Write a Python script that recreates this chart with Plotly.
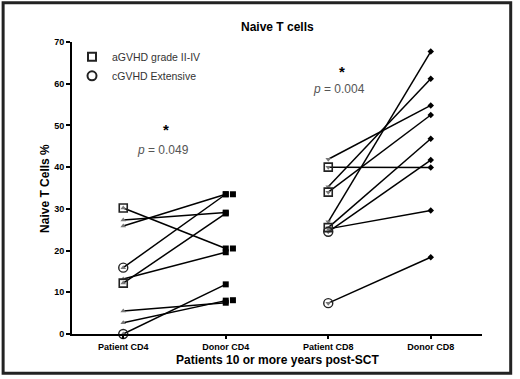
import plotly.graph_objects as go

categories = ["Patient CD4", "Donor CD4", "Patient CD8", "Donor CD8"]
y_ticks = [0, 10, 20, 30, 40, 50, 60, 70]

patient_cd4 = [30.2, 27.3, 25.9, 15.9, 12.2, 13.2, 5.5, 2.7, 0.0]
donor_cd4 = [20.5, 29.1, 33.5, 33.5, 28.9, 19.6, 7.5, 8.0, 11.9]
group_cd4 = ["aGVHD", "none", "none", "cGVHD", "aGVHD", "none", "none", "none", "cGVHD"]
donor_cd4_scatter = [33.5, 20.5, 8.1]

patient_cd8 = [41.9, 40.0, 35.3, 34.0, 26.9, 25.5, 24.5, 25.2, 7.4]
donor_cd8 = [54.8, 39.9, 61.2, 52.5, 67.7, 46.8, 41.7, 29.6, 18.4]
group_cd8 = ["none", "aGVHD", "none", "aGVHD", "none", "aGVHD", "cGVHD", "none", "cGVHD"]

p_labels = ["0.049", "0.004"]
legend_labels = ["aGVHD grade II-IV", "cGVHD Extensive"]

FONT = "Liberation Sans, Arial, sans-serif"
fig = go.Figure()

def add_pairs(xp, xd, pat, don, groups, pat_symbol, don_symbol, don_size):
    for p, d in zip(pat, don):
        fig.add_trace(go.Scatter(x=[xp, xd], y=[p, d], mode="lines",
                                 line=dict(color="black", width=1.5),
                                 showlegend=False, hoverinfo="skip", cliponaxis=False))
    fig.add_trace(go.Scatter(x=[xp] * len(pat), y=pat, mode="markers",
                             marker=dict(symbol=pat_symbol, size=5, color="#777"),
                             showlegend=False, cliponaxis=False))
    fig.add_trace(go.Scatter(x=[xd] * len(don), y=don, mode="markers",
                             marker=dict(symbol=don_symbol, size=don_size, color="black"),
                             showlegend=False, cliponaxis=False))
    sq = [v for v, g in zip(pat, groups) if g == "aGVHD"]
    ci = [v for v, g in zip(pat, groups) if g == "cGVHD"]
    fig.add_trace(go.Scatter(x=[xp] * len(sq), y=sq, mode="markers",
                             marker=dict(symbol="square-open", size=8, color="#222",
                                         line=dict(width=1.6)),
                             showlegend=False, cliponaxis=False))
    fig.add_trace(go.Scatter(x=[xp] * len(ci), y=ci, mode="markers",
                             marker=dict(symbol="circle-open", size=9, color="#222",
                                         line=dict(width=1.4)),
                             showlegend=False, cliponaxis=False))

add_pairs(0, 1, patient_cd4, donor_cd4, group_cd4, "triangle-up", "square", 6)
fig.add_trace(go.Scatter(x=[1.07] * len(donor_cd4_scatter), y=donor_cd4_scatter, mode="markers",
                         marker=dict(symbol="square", size=6, color="black"),
                         showlegend=False, cliponaxis=False))
add_pairs(2, 3, patient_cd8, donor_cd8, group_cd8, "triangle-down", "diamond", 5)

# legend entries
fig.add_trace(go.Scatter(x=[None], y=[None], mode="markers", name=legend_labels[0],
                         marker=dict(symbol="square-open", size=8, color="#222", line=dict(width=2))))
fig.add_trace(go.Scatter(x=[None], y=[None], mode="markers", name=legend_labels[1],
                         marker=dict(symbol="circle-open", size=9, color="#222", line=dict(width=2))))

annos = []
for xc, ys, yp, pl in [(0.42, 49.1, 44.1, p_labels[0]), (2.13, 63.0, 58.7, p_labels[1])]:
    annos.append(dict(x=xc, y=ys, xref="x", yref="y", text="<b>*</b>", showarrow=False,
                      xanchor="center", yanchor="middle",
                      font=dict(size=15, color="black", family=FONT)))
    annos.append(dict(x=xc - 0.03, y=yp, xref="x", yref="y", text="<i>p</i> = " + pl,
                      showarrow=False, xanchor="center", yanchor="middle",
                      font=dict(size=12, color="#555", family=FONT)))

annos.append(dict(x=0.5, y=1.051, xref="paper", yref="paper", text="<b>Naive T cells</b>",
                  showarrow=False, xanchor="center", yanchor="middle",
                  font=dict(size=12, color="black", family=FONT)))
annos.append(dict(x=0.5, y=-0.09, xref="paper", yref="paper",
                  text="<b>Patients 10 or more years post-SCT</b>",
                  showarrow=False, xanchor="center", yanchor="middle",
                  font=dict(size=12, color="black", family=FONT)))
annos.append(dict(x=-0.066, y=0.5, xref="paper", yref="paper", text="<b>Naive T Cells %</b>",
                  textangle=-90, showarrow=False, xanchor="center", yanchor="middle",
                  font=dict(size=12, color="black", family=FONT)))

fig.update_layout(
    width=520, height=379,
    margin=dict(l=72, r=38, t=42, b=45),
    paper_bgcolor="white", plot_bgcolor="white",
    font=dict(family=FONT, color="black"),
    annotations=annos,
    legend=dict(x=0.0, y=0.999, xanchor="left", yanchor="top", bgcolor="rgba(0,0,0,0)",
                font=dict(size=10.5, color="#333", family=FONT), tracegroupgap=0),
    shapes=[dict(type="rect", xref="paper", yref="paper",
                 x0=-0.168, x1=1.07, y0=-0.134, y1=1.134,
                 line=dict(color="#222", width=3))],
)
fig.update_xaxes(range=[-0.5, 3.5], tickvals=[0, 1, 2, 3], ticktext=["<b>%s</b>" % c for c in categories],
                 showline=True, linecolor="black", linewidth=2, ticks="outside", ticklen=3,
                 tickwidth=2, tickcolor="black", showgrid=False, zeroline=False,
                 tickfont=dict(size=9, family=FONT, color="black"))
fig.update_yaxes(range=[0, 70], tickvals=y_ticks, ticktext=["<b>%d</b>" % v for v in y_ticks],
                 showline=True, linecolor="black", linewidth=2, ticks="outside", ticklen=4,
                 tickwidth=2, tickcolor="black", showgrid=False, zeroline=False,
                 tickfont=dict(size=9, family=FONT, color="black"))

fig.write_html("out.html", config={"displayModeBar": False},
               post_script="document.body.style.margin='0';")
